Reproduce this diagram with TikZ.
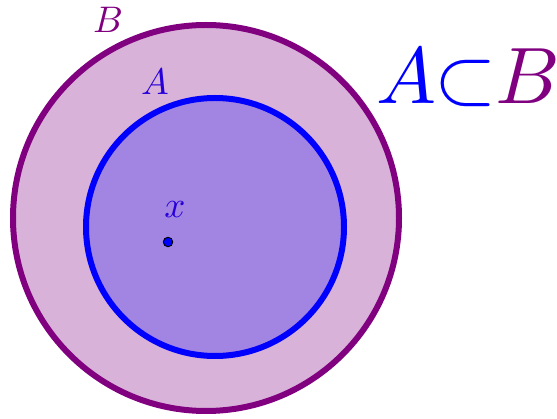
\documentclass[tikz,border=0pt]{standalone}
\usepackage{tikz}
\begin{document}
\begin{tikzpicture}[x=1pt,y=-1pt,
  setB/.style={draw=violet, line width=6pt, fill=violet!30},
  setA/.style={draw=blue, line width=6pt},
  lbl/.style={scale=3.7, inner sep=0pt},
  big/.style={scale=8, inner sep=0pt, anchor=base},
  pt/.style={circle, draw=black, fill=blue, inner sep=0pt, minimum size=9.5pt, line width=0.9pt}]
\useasboundingbox (0,0) rectangle (557,419);
\node[setB, circle, minimum size=386pt, inner sep=0pt] (B) at (206,218) {};
\fill[blue, opacity=0.25] (215,227) circle[radius=129];
\node[setA, circle, minimum size=258pt, inner sep=0pt] (A) at (215,227) {};
\node[pt] (p) at (168,242) {};
\node[lbl, text=violet] (lB) at (108,20) {$B$};
\node[lbl, text=blue!70!violet] (lA) at (155,82) {$A$};
\node[lbl, text=blue!70!violet] (lx) at (175,210) {$x$};
\node[big, text=blue] (rA) at (406,104) {$A$};
\node[big, text=blue] (rs) at (466,104) {$\subset$};
\node[big, text=violet] (rB) at (528,104) {$B$};
\end{tikzpicture}
\end{document}
